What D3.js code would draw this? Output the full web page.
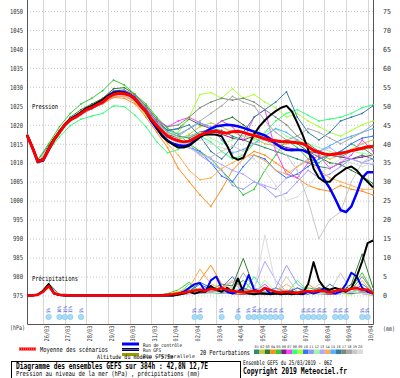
<!DOCTYPE html>
<html>
<head>
<meta charset="utf-8">
<script src="https://cdn.jsdelivr.net/npm/d3@7"></script>
<style>
  body { margin: 0; background: #fff; }
  text { font-family: "DejaVu Sans Mono", monospace; }
</style>
</head>
<body>
<div id="chart"></div>
<script>
const WIDTH = 400
const HEIGHT = 378
const PLOT = { LEFT: 27, RIGHT: 373, TOP: 0, BOTTOM: 324 }

// time axis : hours since 25/03/2019 06Z
const RUN_HOURS = 384
const DATES = ["26/03", "27/03", "28/03", "29/03", "30/03", "31/03", "01/04", "02/04",
               "03/04", "04/04", "05/04", "06/04", "07/04", "08/04", "09/04", "10/04"]
const MIDNIGHTS = [18, 42, 66, 90, 114, 138, 162, 186, 210, 234, 258, 282, 306, 330, 354, 378]
const PRESSURE_TICKS = [975, 980, 985, 990, 995, 1000, 1005, 1010, 1015, 1020, 1025, 1030, 1035, 1040, 1045, 1050]
const PRECIP_TICKS = [0, 5, 10, 15, 20, 25, 30, 35, 40, 45, 50, 55, 60, 65, 70, 75]

// 6h series (0 .. 384h)
const MEAN_P = [1017.3, 1014, 1010.3, 1010.8, 1013.5, 1016, 1018, 1020, 1021.3, 1022, 1023, 1024, 1024.5,
  1025.3, 1026, 1027.2, 1028, 1028.3, 1028.2, 1027.8, 1026.8, 1025, 1023.5, 1021.5, 1019.8, 1018.3, 1017,
  1016.3, 1015.8, 1015.5, 1015.7, 1016.5, 1017.3, 1017.8, 1018.2, 1018.3, 1018, 1017.8, 1018.2, 1018.3, 1018,
  1017.5, 1017.2, 1016.8, 1016.3, 1016, 1015.8, 1015.6, 1015.5, 1015.4, 1015.3, 1015, 1014.2, 1013.3, 1012.8,
  1012.3, 1012.1, 1012.3, 1012.5, 1012.8, 1013.2, 1013.5, 1013.8, 1014.2, 1014.3]
const CONTROL_P = [1017.3, 1014, 1010.2, 1010.6, 1013.4, 1016, 1018, 1020, 1021.4, 1022.2, 1023.2, 1024.2, 1024.8,
  1025.6, 1026.5, 1027.7, 1028.5, 1028.8, 1028.6, 1028, 1026.9, 1025, 1023.4,
  1021, 1019, 1017.2, 1015.8, 1015, 1014.6, 1014.4, 1014.7, 1015.8, 1016.8, 1018, 1019, 1019.6, 1019.8, 1020,
  1019.9, 1019.6, 1019.2, 1018.7, 1018.2, 1017.7, 1017.2, 1016.3, 1015, 1014, 1013.4, 1013.3, 1013.4, 1013.3,
  1012.6, 1011.3, 1008.5, 1005.5, 1003.3, 1000.5, 997.5, 997, 998.5, 1002, 1006, 1007.5, 1007.5]
const GFS_P = [1017.3, 1014.2, 1010.5, 1011, 1013.8, 1016.3, 1018.3, 1020.2, 1021.5, 1022.3, 1023.3, 1024.4, 1025,
  1025.8, 1026.6, 1027.6, 1028.3, 1028.6, 1028.4, 1027.8, 1026.6, 1025.2, 1023.7,
  1021.3, 1019.3, 1017, 1015.7, 1014.8, 1014, 1014, 1014.5, 1015.6, 1016.8, 1017.4, 1017.5, 1017.4, 1017, 1014.5,
  1011.5, 1010.8, 1011.3, 1014.5, 1017.5, 1019.6, 1021.2, 1022.5, 1023.6, 1024.5, 1025, 1023.5, 1020.5, 1017.3,
  1013.5, 1008.5, 1006, 1005, 1005, 1006.5, 1007.5, 1008.5, 1009, 1008, 1006.3, 1005, 1003.5]

const MEAN_R = [0, 0, 0.2, 1, 2.5, 0.6, 0.2, 0.1, 0, 0, 0, 0, 0, 0, 0, 0, 0, 0, 0, 0, 0, 0, 0, 0, 0, 0,
  0.2, 0.3, 0.5, 0.7, 1, 1.3, 1.5, 1.2, 1.8, 1.5, 2, 1.5, 1.2, 1, 0.8, 1, 1.2, 1, 2, 1.5, 1, 0.8, 1, 0.8, 0.7,
  1, 1.2, 1, 1.3, 1.1, 0.8, 1.2, 1.5, 1.3, 1.8, 2, 1.5, 1.6, 0.5]
const CONTROL_R = [0, 0, 0.2, 1, 2.8, 0.5, 0.1, 0, 0, 0, 0, 0, 0, 0, 0, 0, 0, 0, 0, 0, 0, 0, 0, 0, 0, 0, 0, 0,
  0.5, 1, 2, 3, 3.3, 1, 4, 5, 2, 1, 0.5, 1, 2, 5.4, 1.5, 1, 2, 0.5, 1, 0.5, 0.5, 1, 0.5, 0.3, 1, 0.5, 1, 2, 1,
  0.5, 1, 3, 6, 5, 2, 1, 0.5]
const GFS_R = [0, 0, 0.3, 1.2, 3, 0.6, 0.1, 0, 0, 0, 0, 0, 0, 0, 0, 0, 0, 0, 0, 0, 0, 0, 0, 0, 0, 0, 0, 0,
  0.2, 0.5, 1, 0.5, 1, 1, 2.5, 1.5, 1, 2, 1, 4.5, 1, 0.5, 0.3, 0.5, 0.5, 0.3, 0.5, 0.3, 0.5, 0.3, 0.5, 0.5, 3,
  8.8, 4, 2, 1.5, 2, 1.5, 1, 2, 5, 9, 13.8, 14.5]

// 20 perturbations, 12h steps (0 .. 384h)
const MEMBER_COLORS = ["#2e8b74", "#c8c83c", "#2f7f2f", "#ff8c1a", "#33cc33", "#8c1a8c", "#ff44ff", "#33ff77",
  "#aaff33", "#3377ff", "#9999ff", "#99ff99", "#b0a8ff", "#ffb050", "#55b0ff", "#2f7fa8", "#7a8a7a", "#a8a8a8",
  "#c8c8c8", "#dcdcdc"]
const MEMBERS_P = [
  [1017.3, 1010.5, 1014.2, 1018.3, 1021.5, 1023.2, 1024.8, 1026.5, 1028.3, 1028.5, 1027, 1023.8, 1020.5, 1018, 1017, 1016.5, 1018, 1019, 1018.5, 1017, 1016, 1015, 1014, 1013, 1012, 1011, 1010, 1009, 1008.5, 1010, 1011, 1012, 1011],
  [1017.2, 1010.2, 1013.8, 1017.8, 1021, 1022.8, 1024.3, 1025.8, 1027.5, 1027.6, 1026, 1022.5, 1019, 1016.5, 1016, 1017.5, 1019.5, 1020.5, 1019.5, 1018, 1017, 1016.5, 1015, 1014.5, 1015, 1016, 1014, 1012, 1011, 1012, 1013.5, 1015, 1016],
  [1017.3, 1010.6, 1014.5, 1018.5, 1022, 1024, 1025.5, 1027, 1029.5, 1029.8, 1028, 1025, 1021.5, 1018.5, 1019, 1021.5, 1020, 1019, 1021, 1022, 1020, 1018, 1016.5, 1015, 1016, 1015, 1013, 1011.5, 1010, 1009.5, 1008, 1006.5, 1004.5],
  [1017.3, 1010.3, 1013.9, 1017.9, 1021.2, 1022.9, 1024.4, 1025.5, 1027.2, 1027, 1025.5, 1022, 1018, 1014, 1008.5, 1005, 1001.5, 998.5, 1003, 1008, 1011, 1013, 1012, 1010, 1008, 1006, 1004, 1003, 1002.5, 1004, 1003, 1002.5, 1001.5],
  [1017.4, 1010.8, 1015, 1019.5, 1023, 1025.5, 1027, 1029, 1031.8, 1030.5, 1028, 1025.5, 1022, 1019, 1017.5, 1015, 1013, 1011, 1008, 1005, 1001.5, 1003, 1008, 1012, 1016, 1014, 1011, 1010, 1012, 1013, 1015, 1013.5, 1014],
  [1017.3, 1010.4, 1014, 1018.1, 1021.4, 1023.1, 1024.6, 1026.1, 1028.1, 1028.3, 1026.9, 1023.6, 1020, 1017.5, 1016.5, 1017, 1018, 1018.5, 1017.5, 1016.5, 1016, 1017, 1016, 1015, 1014, 1013.5, 1013, 1012.5, 1012, 1011.5, 1011, 1011.5, 1012],
  [1017.3, 1010.3, 1014.1, 1018.2, 1021.6, 1023.3, 1024.9, 1026.4, 1028.8, 1029, 1027.5, 1024.5, 1021, 1019.5, 1021, 1022, 1020.5, 1019, 1021, 1019.5, 1016, 1022, 1024, 1013, 1007, 1006, 1010, 1012, 1008.5, 1010, 1012, 1016, 1013],
  [1017.2, 1010, 1013.2, 1016.8, 1019.8, 1021.5, 1022.3, 1023, 1025, 1024.8, 1022.5, 1019.5, 1015.5, 1012.6, 1013.5, 1016, 1017, 1015.5, 1013, 1011, 1012, 1015, 1018, 1021, 1023, 1024, 1022.5, 1021, 1021.5, 1022, 1023, 1024.5, 1025.3],
  [1017.3, 1010.4, 1014, 1018, 1021.4, 1023, 1024.6, 1026.2, 1028.2, 1028.4, 1026.5, 1022.5, 1019.5, 1017.5, 1018, 1022, 1028, 1028.5, 1027, 1029.5, 1027, 1028, 1026, 1024.5, 1022, 1023, 1021, 1019.5, 1018, 1017, 1018.5, 1020, 1021],
  [1017.3, 1010.3, 1014, 1018, 1021.2, 1022.8, 1024.3, 1025.8, 1027.7, 1027.9, 1026.4, 1023, 1019.5, 1016, 1014.5, 1014, 1013, 1010, 1006.5, 1005, 1009, 1012, 1011, 1008, 1006, 1007, 1009, 1011, 1012, 1013, 1015, 1016.5, 1017],
  [1017.3, 1010.3, 1013.9, 1017.8, 1021, 1022.7, 1024.2, 1025.7, 1027.5, 1027.6, 1026.1, 1022.8, 1019, 1016.5, 1016, 1015, 1012, 1010, 1008, 1004, 1003, 1005, 1003.5, 1001, 1002, 1005, 1008, 1006, 1007, 1009, 1011, 1010, 1011],
  [1017.3, 1010.4, 1014.1, 1018.1, 1021.5, 1023.2, 1024.8, 1026.3, 1028.4, 1028.6, 1027.2, 1024, 1020.5, 1018, 1016.5, 1017, 1018, 1016.5, 1015, 1016, 1017, 1016, 1018, 1019, 1017, 1016, 1015, 1014, 1013, 1012, 1013, 1012.5, 1012],
  [1017.3, 1010.3, 1014, 1018, 1021.3, 1023, 1024.5, 1026, 1027.9, 1028.1, 1026.7, 1023.4, 1019.8, 1017, 1015, 1014, 1012.5, 1011, 1009.5, 1008, 1007, 1005, 1004, 1003, 1006, 1009, 1011, 1013, 1014, 1012, 1011, 1010, 1009.5],
  [1017.3, 1010.3, 1013.9, 1017.9, 1021.2, 1022.9, 1024.4, 1025.9, 1027.6, 1027.6, 1026, 1022.8, 1019, 1015, 1012, 1008, 1005.5, 1006, 1008.5, 1010, 1011.5, 1012, 1010.5, 1008, 1007, 1009, 1010.5, 1008, 1006, 1005, 1004, 1003, 1003],
  [1017.3, 1010.4, 1014.1, 1018.1, 1021.4, 1023.1, 1024.6, 1026.1, 1028, 1028.2, 1026.8, 1023.6, 1020.2, 1018.5, 1017.5, 1019, 1020.5, 1019.5, 1016, 1012.5, 1013.5, 1015, 1017, 1019, 1018, 1016, 1014, 1013, 1014.5, 1016, 1017, 1018, 1019],
  [1017.3, 1010.4, 1014.2, 1018.3, 1021.7, 1023.4, 1025, 1026.6, 1028.6, 1028.8, 1027.4, 1024.2, 1020.8, 1018.5, 1019, 1020, 1017, 1013, 1011, 1014, 1018, 1022, 1024, 1026, 1028.7, 1022, 1018, 1016, 1018, 1021, 1022, 1023, 1025],
  [1017.3, 1010.5, 1014.3, 1018.4, 1021.8, 1023.5, 1025.2, 1026.8, 1029, 1029.2, 1027.8, 1024.8, 1021.5, 1019.5, 1020, 1022, 1024.5, 1026, 1027, 1026.5, 1027, 1026, 1024, 1022, 1020, 1017, 1015, 1013, 1012, 1011.5, 1013, 1014, 1012],
  [1017.3, 1010.4, 1014.2, 1018.2, 1021.5, 1023.2, 1024.7, 1026.3, 1028.4, 1028.6, 1027.1, 1023.9, 1020.5, 1018, 1017, 1019, 1021, 1023, 1025, 1027.5, 1026, 1025, 1021, 1018, 1016, 1017, 1019, 1018, 1016.5, 1015, 1016.5, 1018, 1020],
  [1017.3, 1010.3, 1014, 1018, 1021.3, 1023, 1024.5, 1026, 1027.9, 1028.1, 1026.7, 1023.5, 1019.8, 1017, 1015.5, 1014, 1012, 1011.5, 1013, 1014.5, 1013, 1015, 1016, 1014, 1012, 1008, 1000, 990, 995, 997, 1005, 1010, 1012],
  [1017.3, 1010.3, 1014, 1018, 1021.3, 1023, 1024.5, 1026, 1027.8, 1027.9, 1026.5, 1023.2, 1019.5, 1016.5, 1015, 1015.5, 1016, 1015, 1014, 1013, 1012, 1011, 1008, 1004, 1000, 1001, 1004, 1007, 1009, 1011, 1010, 1009, 1010]
]
const MEMBERS_R = [
  [0, 0, 2.5, 0.3, 0, 0, 0, 0, 0, 0, 0, 0, 0, 0.5, 0.8, 1.5, 0.5, 2, 1, 0.5, 1.5, 0.5, 0.3, 2, 1, 0.5, 0.3, 1.5, 1, 0.5, 3, 1, 0.5],
  [0, 0, 2, 0.2, 0, 0, 0, 0, 0, 0, 0, 0, 0, 0.3, 0.5, 0.5, 1, 0.8, 2.5, 0.5, 0.3, 1, 0.5, 0.3, 1.5, 0.5, 0.5, 1, 0.5, 2, 1, 0.5, 0],
  [0, 0, 3.2, 0.3, 0, 0, 0, 0, 0, 0, 0, 0, 0, 0.2, 0.5, 1, 0.5, 1.5, 3, 2.5, 9.8, 2, 0.5, 1, 0.5, 1, 0.5, 2, 1.5, 1, 3, 11, 2],
  [0, 0, 2.8, 0.2, 0, 0, 0, 0, 0, 0, 0, 0, 0, 0, 0.5, 1, 4, 8, 3, 1.5, 0.5, 1, 0.5, 2, 1, 0.5, 3, 1, 1.5, 0.5, 1, 2, 0.5],
  [0, 0, 3, 0.3, 0, 0, 0, 0, 0, 0, 0, 0, 0, 0.5, 1.5, 3.5, 1, 0.5, 1.5, 2, 4, 1, 0.5, 0.3, 1, 0.5, 2, 1.5, 0.5, 1, 2, 6, 1],
  [0, 0, 2.2, 0.2, 0, 0, 0, 0, 0, 0, 0, 0, 0, 0.2, 0.3, 0.5, 1, 0.5, 1, 0.5, 0.3, 0.5, 0.2, 1, 0.5, 0.3, 1, 0.5, 0.3, 0.5, 1, 0.5, 0.3],
  [0, 0, 2.4, 0.2, 0, 0, 0, 0, 0, 0, 0, 0, 0, 0.3, 0.5, 0.5, 1.5, 1, 2, 0.5, 0.5, 1, 3, 0.5, 1, 0.3, 0.5, 1, 0.5, 1.5, 0.5, 1, 0.5],
  [0, 0, 2.6, 0.3, 0, 0, 0, 0, 0, 0, 0, 0, 0, 0.4, 0.5, 3, 1, 0.5, 0.5, 1, 0.5, 5, 1, 0.5, 0.5, 4, 1, 0.5, 0.5, 1, 0.5, 2, 0.5],
  [0, 0, 2.5, 0.3, 0, 0, 0, 0, 0, 0, 0, 0, 0, 0.5, 1, 2, 1, 0.5, 1, 0.5, 0.5, 0.3, 0.5, 1, 0.5, 0.3, 0.5, 0.5, 1, 0.5, 0.3, 1, 0.5],
  [0, 0, 2.7, 0.3, 0, 0, 0, 0, 0, 0, 0, 0, 0, 0.3, 0.5, 1, 3, 1.5, 2, 5, 1, 0.5, 1, 0.5, 1, 2, 0.5, 1, 0.5, 1, 0.5, 3, 1],
  [0, 0, 2.3, 0.2, 0, 0, 0, 0, 0, 0, 0, 0, 0, 0.2, 0.3, 0.5, 0.5, 1, 0.5, 1, 2, 1, 0.5, 2, 8, 3, 1, 0.5, 1, 0.5, 2, 1, 0.5],
  [0, 0, 2.4, 0.2, 0, 0, 0, 0, 0, 0, 0, 0, 0, 0.3, 0.5, 0.5, 1, 0.5, 1, 2, 1, 0.5, 4, 1, 0.5, 1, 0.5, 0.3, 1, 0.5, 1, 1.5, 0.5],
  [0, 0, 2.5, 0.2, 0, 0, 0, 0, 0, 0, 0, 0, 0, 0.3, 0.5, 1, 0.5, 1, 2, 3.5, 1, 2, 9, 4, 1, 0.5, 1, 2, 0.5, 1, 0.5, 1, 0.3],
  [0, 0, 2.6, 0.2, 0, 0, 0, 0, 0, 0, 0, 0, 0, 0.3, 1, 2, 7, 3, 2, 4, 1.5, 1, 0.5, 1, 3, 1, 0.5, 2, 0.5, 1, 0.5, 4, 0.5],
  [0, 0, 2.6, 0.3, 0, 0, 0, 0, 0, 0, 0, 0, 0, 0.3, 0.5, 1, 1.5, 2.5, 1, 0.5, 1, 0.5, 1, 2, 0.5, 1, 0.5, 1.5, 1, 0.5, 1, 0.5, 1],
  [0, 0, 2.9, 0.3, 0, 0, 0, 0, 0, 0, 0, 0, 0, 0.3, 0.5, 1, 3.5, 2, 1, 0.5, 2, 1, 0.5, 1, 0.5, 2, 1, 0.5, 3, 1, 0.5, 1, 0.5],
  [0, 0, 2.8, 0.3, 0, 0, 0, 0, 0, 0, 0, 0, 0, 0.4, 0.5, 1, 1.5, 2, 1, 0.5, 1.5, 1, 0.5, 0.5, 1, 0.5, 1, 2, 1, 0.5, 1.5, 5, 1],
  [0, 0, 2.5, 0.2, 0, 0, 0, 0, 0, 0, 0, 0, 0, 0.3, 0.5, 1, 0.5, 1, 1.5, 1, 6, 2, 1, 0.5, 1, 0.5, 1, 0.5, 1, 0.5, 2, 1, 0.5],
  [0, 0, 2.4, 0.2, 0, 0, 0, 0, 0, 0, 0, 0, 0, 0.2, 0.5, 1, 2, 1.5, 1, 0.5, 1, 2, 1, 0.5, 5, 1, 0.5, 3, 1, 6, 1, 0.5, 0.3],
  [0, 0, 2.3, 0.2, 0, 0, 0, 0, 0, 0, 0, 0, 0, 0.2, 0.3, 0.5, 1, 0.5, 1, 2, 0.5, 1, 16, 3, 1, 0.5, 1, 0.5, 1, 0.5, 1, 0.5, 0.3]
]

// precipitation icons (6h step index, probability %)
const ICON_STEPS = [4, 6, 7, 8, 10, 31, 32, 36, 39, 41, 42, 43, 44, 45, 46, 47, 51, 52, 53, 54, 55, 57, 58, 59, 62, 63]
const ICON_PCT = [5, 10, 15, 15, 5, 5, 5, 5, 5, 5, 10, 5, 5, 5, 5, 5, 5, 5, 5, 5, 5, 5, 5, 5, 5, 5]

class EnsembleChart {
  constructor(element) {
    this.svg = d3.select(element)
                 .append("svg")
                 .attr("width", WIDTH)
                 .attr("height", HEIGHT)
    this.setScales()
    this.drawGrid()
    this.drawAxes()
    this.drawIcons()
    this.drawPrecip()
    this.drawPressure()
    this.drawLegend()
  }

  setScales() {
    this.x = d3.scaleLinear().domain([0, RUN_HOURS]).range([PLOT.LEFT, PLOT.RIGHT])
    this.yP = d3.scaleLinear().domain([975, 1050]).range([295.5, 11])
    this.yR = d3.scaleLinear().domain([0, 75]).range([295.5, 11])
    this.hours6 = d3.range(0, RUN_HOURS + 1, 6)
    this.hours12 = d3.range(0, RUN_HOURS + 1, 12)
  }

  drawGrid() {
    this.svg.append("g")
        .selectAll("line")
        .data(PRESSURE_TICKS)
        .enter()
        .append("line")
        .attr("x1", PLOT.LEFT)
        .attr("x2", PLOT.RIGHT)
        .attr("y1", d => this.yP(d) + 0.5)
        .attr("y2", d => this.yP(d) + 0.5)
        .attr("stroke", "#c8c8c8")
        .attr("stroke-dasharray", "1,2")

    this.svg.append("g")
        .selectAll("line")
        .data(MIDNIGHTS)
        .enter()
        .append("line")
        .attr("x1", d => Math.round(this.x(d)) + 0.5)
        .attr("x2", d => Math.round(this.x(d)) + 0.5)
        .attr("y1", PLOT.TOP)
        .attr("y2", PLOT.BOTTOM)
        .attr("stroke", "#d6d6d6")
  }

  drawAxes() {
    const left = this.svg.append("g")
        .attr("transform", `translate(${PLOT.LEFT},0)`)
        .call(d3.axisLeft(this.yP)
                .tickValues(PRESSURE_TICKS)
                .tickFormat(d3.format("d"))
                .tickSize(0)
                .tickPadding(4))
    left.select(".domain").remove()
    left.selectAll("text")
        .attr("font-family", "DejaVu Sans Mono")
        .attr("font-size", 7)
        .attr("fill", "#333")
        .attr("textLength", d => d >= 1000 ? 13 : 10)
        .attr("lengthAdjust", "spacingAndGlyphs")

    const right = this.svg.append("g")
        .attr("transform", `translate(${PLOT.RIGHT},0)`)
        .call(d3.axisRight(this.yR)
                .tickValues(PRECIP_TICKS)
                .tickFormat(d3.format("d"))
                .tickSize(0)
                .tickPadding(10))
    right.select(".domain").remove()
    right.selectAll("text")
         .attr("font-family", "DejaVu Sans Mono")
         .attr("font-size", 7)
         .attr("fill", "#333")
         .attr("textLength", d => d >= 10 ? 8 : 4)
         .attr("lengthAdjust", "spacingAndGlyphs")

    this.svg.append("path")
        .attr("d", `M${PLOT.LEFT + 0.5},${PLOT.TOP}V${PLOT.BOTTOM + 0.5}H${PLOT.RIGHT + 0.5}V${PLOT.TOP}`)
        .attr("fill", "none")
        .attr("stroke", "#555")

    this.svg.append("g")
        .selectAll("text")
        .data(DATES)
        .enter()
        .append("text")
        .attr("transform", (d, i) => `translate(${this.x(MIDNIGHTS[i]) + 5.5},${PLOT.BOTTOM + 1.5}) rotate(-90)`)
        .attr("text-anchor", "end")
        .attr("font-size", 6.5)
        .attr("fill", "#333")
        .attr("textLength", 16)
        .attr("lengthAdjust", "spacingAndGlyphs")
        .text(d => d)

    this.label(10, 329.5, "(hPa)", 15, { size: 6.5, fill: "#333" })
    this.label(383, 330.5, "(mm)", 12, { size: 6.5, fill: "#333" })
    this.label(32, 108.5, "Pression", 26, { size: 7 })
    this.label(32, 280.5, "Précipitations", 46, { size: 7 })
  }

  drawIcons() {
    const icons = this.svg.append("g")
        .selectAll("g")
        .data(ICON_STEPS)
        .enter()
        .append("g")
        .attr("transform", d => `translate(${this.x(this.hours6[d])},0)`)

    icons.append("circle")
         .attr("cy", 317)
         .attr("r", 2.7)
         .attr("fill", "#a8dcf6")
         .attr("stroke", "#7cc4ee")
         .attr("stroke-width", 0.6)

    icons.append("text")
         .attr("transform", "translate(1.8,313) rotate(-90)")
         .attr("font-size", 5)
         .attr("fill", "#3344cc")
         .attr("textLength", (d, i) => ICON_PCT[i] >= 10 ? 7 : 5)
         .attr("lengthAdjust", "spacingAndGlyphs")
         .text((d, i) => `${ICON_PCT[i]}%`)
  }

  drawLine(values, hours, y, color, width) {
    const line = d3.line()
                   .x((d, i) => this.x(hours[i]))
                   .y(d => y(d))
    this.svg.append("path")
        .datum(values)
        .attr("d", line)
        .attr("fill", "none")
        .attr("stroke", color)
        .attr("stroke-width", width)
        .attr("stroke-linejoin", "round")
  }

  drawPrecip() {
    MEMBERS_R.forEach((values, i) => this.drawLine(values, this.hours12, this.yR, MEMBER_COLORS[i], 1))
    this.drawLine(CONTROL_R, this.hours6, this.yR, "#0000ff", 2)
    this.drawLine(GFS_R, this.hours6, this.yR, "#000000", 2)
    this.drawLine(MEAN_R, this.hours6, this.yR, "#ff0000", 2.5)
  }

  drawPressure() {
    MEMBERS_P.forEach((values, i) => {
      this.drawLine(values, this.hours12, this.yP, MEMBER_COLORS[i], 1)
      this.svg.append("g")
          .selectAll("circle")
          .data(values)
          .enter()
          .append("circle")
          .attr("cx", (d, k) => this.x(this.hours12[k]))
          .attr("cy", d => this.yP(d))
          .attr("r", 0.9)
          .attr("fill", MEMBER_COLORS[i])
    })
    this.drawLine(CONTROL_P, this.hours6, this.yP, "#0000ff", 2.5)
    this.drawLine(GFS_P, this.hours6, this.yP, "#000000", 2)
    this.drawLine(MEAN_P, this.hours6, this.yP, "#ff0000", 3)
  }

  drawLegend() {
    this.svg.append("line").attr("x1", 19).attr("x2", 36).attr("y1", 349).attr("y2", 349)
        .attr("stroke", "#ff0000").attr("stroke-width", 3)
    this.svg.append("line").attr("x1", 19).attr("x2", 36).attr("y1", 349).attr("y2", 349)
        .attr("stroke", "#ff9090").attr("stroke-width", 1).attr("stroke-dasharray", "1,1")
    this.label(40, 351.5, "Moyenne des scénarios", 68, { size: 7 })

    this.svg.append("line").attr("x1", 122).attr("x2", 139).attr("y1", 344).attr("y2", 344)
        .attr("stroke", "#0000ff").attr("stroke-width", 3)
    this.svg.append("line").attr("x1", 122).attr("x2", 139).attr("y1", 349.5).attr("y2", 349.5)
        .attr("stroke", "#000050").attr("stroke-width", 3)
    this.svg.append("line").attr("x1", 122).attr("x2", 139).attr("y1", 349.5).attr("y2", 349.5)
        .attr("stroke", "#8080c0").attr("stroke-width", 0.7)
    this.svg.append("line").attr("x1", 122).attr("x2", 139).attr("y1", 354.5).attr("y2", 354.5)
        .attr("stroke", "#999900").attr("stroke-width", 3)
    this.label(143, 346.5, "Run de contrôle", 39, { size: 5 })
    this.label(143, 352, "Run GFS", 18, { size: 5 })
    this.label(143, 357.5, "Run GFS Parallele", 52, { size: 5 })
    this.label(97, 359, "Altitude du modele : 575m", 76, { size: 6 })

    this.label(200, 354.5, "20 Perturbations", 50, { size: 7 })
    const sw = this.svg.append("g")
        .selectAll("g")
        .data(MEMBER_COLORS)
        .enter()
        .append("g")
        .attr("transform", (d, i) => `translate(${254 + i * 5.45},0)`)
    sw.append("rect")
      .attr("y", 349.5)
      .attr("width", 5.45)
      .attr("height", 4.5)
      .attr("fill", d => d)
    sw.append("text")
      .attr("x", 2.7)
      .attr("y", 348)
      .attr("text-anchor", "middle")
      .attr("font-size", 3.6)
      .attr("fill", "#333")
      .text((d, i) => String(i + 1).padStart(2, "0"))

    this.svg.append("rect")
        .attr("x", 11.5)
        .attr("y", 361.5)
        .attr("width", 229)
        .attr("height", 22)
        .attr("fill", "none")
        .attr("stroke", "#000")
    this.label(16, 368.5, "Diagramme des ensembles GEFS sur 384h : 42,8N 12,7E", 192, { size: 8, bold: true })
    this.label(16, 376, "Pression au niveau de la mer (hPa) , précipitations (mm)", 184, { size: 7 })
    this.label(243, 364.5, "Ensemble GEFS du 25/03/2019 - 06Z", 89, { size: 6.5 })
    this.label(243, 374, "Copyright 2019 Meteociel.fr", 104, { size: 8, bold: true })
  }

  label(x, y, str, len, opts = {}) {
    const t = this.svg.append("text")
                  .attr("x", x)
                  .attr("y", y)
                  .attr("font-size", opts.size || 7)
                  .attr("font-weight", opts.bold ? "bold" : null)
                  .attr("fill", opts.fill || "#000")
                  .text(str)
    if (len) t.attr("textLength", len).attr("lengthAdjust", "spacingAndGlyphs")
    return t
  }
}

new EnsembleChart("#chart")
</script>
</body>
</html>
